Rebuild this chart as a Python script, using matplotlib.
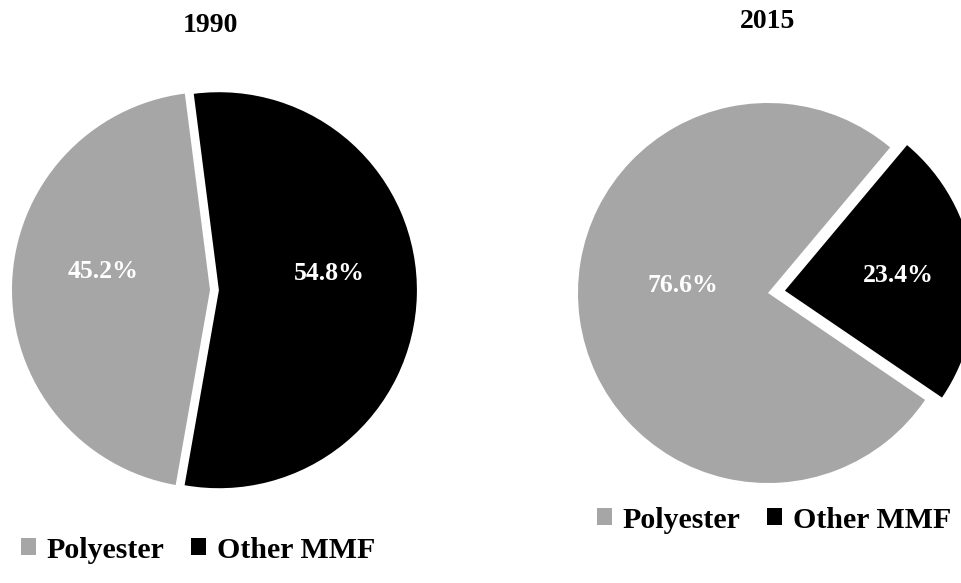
import numpy as np
import matplotlib
matplotlib.use("Agg")
import matplotlib.pyplot as plt

labels = ["Polyester", "Other MMF"]
years = ["1990", "2015"]
share_1990 = [45.2, 54.8]
share_2015 = [76.6, 23.4]

GREY, BLACK = "#a6a6a6", "#000000"
W, H = 961, 583
plt.rcParams["font.family"] = ["Liberation Serif", "DejaVu Serif"]
plt.rcParams["font.weight"] = "bold"


def px_axes(fig, cx, cy, half):
    # axes square of 2*half pixels centred on (cx, cy) image pixels
    return fig.add_axes([(cx - half) / W, (H - cy - half) / H, 2 * half / W, 2 * half / H])


def draw_pie(fig, values, title, cx, cy, r, start, explode, pct_dist, title_y, leg_x, leg_y):
    half = r * 1.07
    ax = px_axes(fig, cx, cy, half)
    wedges, _, autotexts = ax.pie(values, colors=[GREY, BLACK], startangle=start,
                                  explode=[0, explode], autopct="%1.1f%%",
                                  radius=1, textprops=dict(color="white", fontsize=18.5,
                                                           fontweight="bold"))
    for w, t, d in zip(wedges, autotexts, pct_dist):
        ang = np.deg2rad((w.theta1 + w.theta2) / 2)
        ox, oy = w.center
        t.set_position((ox + d[0] * np.cos(ang), oy + d[0] * np.sin(ang) + d[1]))
    lim = half / r
    ax.set_xlim(-lim, lim)
    ax.set_ylim(-lim, lim)
    ax.set_aspect("equal")
    ax.axis("off")
    fig.text(cx / W, 1 - title_y / H, title, ha="center", va="center",
             fontsize=20, fontweight="bold")
    fig.legend(wedges, labels, loc="center left", bbox_to_anchor=(leg_x / W, 1 - leg_y / H),
               ncol=2, frameon=False, fontsize=21.5, handlelength=0.5, handleheight=0.5,
               handletextpad=0.35, columnspacing=0.9, borderaxespad=0, borderpad=0)
    return ax


fig = plt.figure(figsize=(W / 100, H / 100), dpi=100)
draw_pie(fig, share_1990, years[0], 210, 290, 198, 97.3, 0.045,
         [(0.54, 0.08), (0.56, 0.1)], 25, 21, 550)
draw_pie(fig, share_2015, years[1], 768, 293, 190, 50, 0.09,
         [(0.45, 0.1), (0.6, 0.0)], 22, 597, 520)
fig.savefig("out.png", dpi=100, facecolor="white")
